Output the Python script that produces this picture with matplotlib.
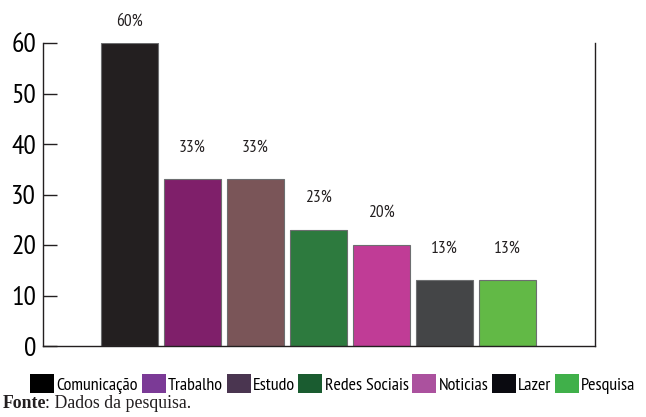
import matplotlib
matplotlib.use("Agg")
import matplotlib.pyplot as plt
from matplotlib.patches import Patch

categories = ["Comunicação", "Trabalho", "Estudo", "Redes Sociais", "Noticias", "Lazer", "Pesquisa"]
values = [60, 33, 33, 23, 20, 13, 13]
labels = ["60%", "33%", "33%", "23%", "20%", "13%", "13%"]
bar_colors = ["#231f20", "#7f1f6a", "#7a5558", "#2d7a3e", "#c03c96", "#444547", "#62b946"]
legend_colors = ["#000000", "#7b3a96", "#4a3550", "#1a5c30", "#ab519e", "#0a0a10", "#40b04a"]
yticks = [0, 10, 20, 30, 40, 50, 60]

narrow = ["PT Sans Narrow", "Open Sans Condensed", "DejaVu Sans"]

fig = plt.figure(figsize=(6.46, 4.17), dpi=100)
ax = fig.add_axes([43/646, 1-346/417, (595-43)/646, (346-43)/417])

x = list(range(len(values)))
ax.bar(x, values, width=0.905, color=bar_colors, edgecolor="#6d6e70", linewidth=0.8)
for xi, v, lab in zip(x, values, labels):
    off = 21 if v == max(values) else 32
    ax.annotate(lab, (xi, v), xytext=(0, off), textcoords="offset pixels",
                ha="center", va="center", fontsize=12.5, family=narrow, color="#231f20")

ax.set_xlim(-1.373, 7.39)
ax.set_ylim(0, 60)
ax.set_yticks(yticks)
ax.set_yticklabels([str(t) for t in yticks], family=narrow, fontsize=20)
ax.tick_params(axis="y", direction="in", length=10, width=1, pad=5, color="#231f20")
ax.set_xticks([])
ax.spines["top"].set_visible(False)
for s in ["left", "right", "bottom"]:
    ax.spines[s].set_color("#231f20")
    ax.spines[s].set_linewidth(1.0)

handles = [Patch(facecolor=c, edgecolor="none") for c in legend_colors]
fig.legend(handles, categories, loc="center", bbox_to_anchor=(333/646, 1-384/417),
           ncol=7, frameon=False, handlelength=1.33, handleheight=1.2,
           handletextpad=0.12, columnspacing=0.2, borderpad=0, borderaxespad=0,
           prop={"family": narrow, "size": 13.0})

fig.text(3/646, 1-404/417, "Fonte", family="Liberation Serif", fontweight="bold",
         fontsize=12.8, va="center", ha="left", color="#231f20")
fig.text(45/646, 1-404/417, ": Dados da pesquisa.", family="Liberation Serif",
         fontsize=12.8, va="center", ha="left", color="#231f20")

fig.savefig("out.png", dpi=100)
